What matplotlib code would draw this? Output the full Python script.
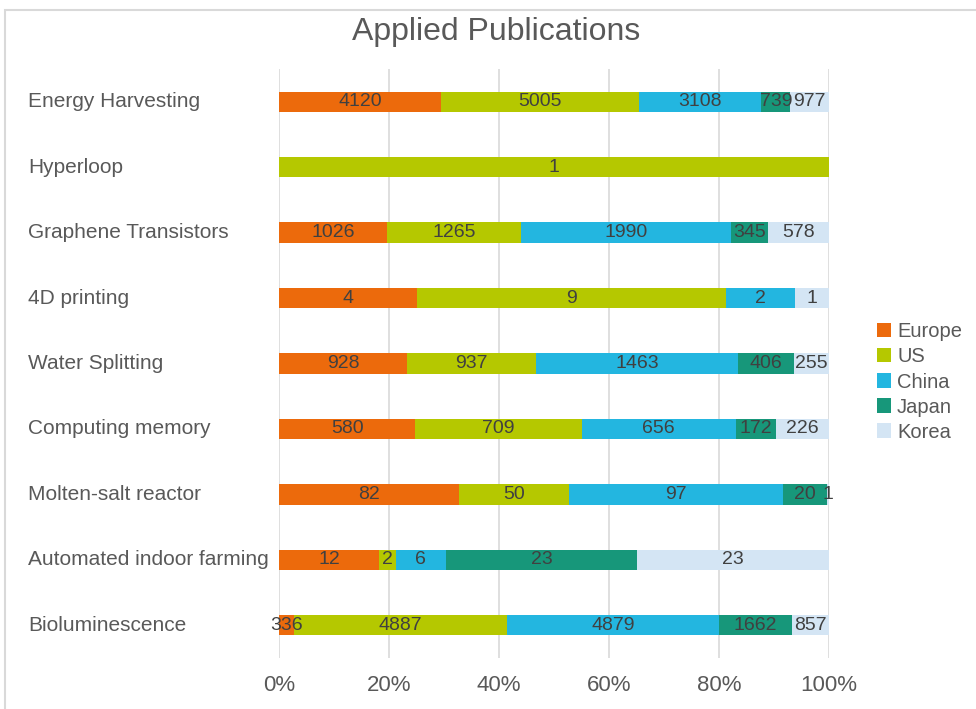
import numpy as np
import matplotlib.pyplot as plt
from matplotlib.patches import Rectangle
from matplotlib.ticker import PercentFormatter
from matplotlib.transforms import blended_transform_factory

plt.rcParams['font.family'] = ['Liberation Sans', 'DejaVu Sans']

topics = ['Energy Harvesting', 'Hyperloop', 'Graphene Transistors', '4D printing',
          'Water Splitting', 'Computing memory', 'Molten-salt reactor',
          'Automated indoor farming', 'Bioluminescence']
regions = ['Europe', 'US', 'China', 'Japan', 'Korea']
europe = [4120, 0, 1026, 4, 928, 580, 82, 12, 336]
us = [5005, 1, 1265, 9, 937, 709, 50, 2, 4887]
china = [3108, 0, 1990, 2, 1463, 656, 97, 6, 4879]
japan = [739, 0, 345, 0, 406, 172, 20, 23, 1662]
korea = [977, 0, 578, 1, 255, 226, 1, 23, 857]
colors = ['#EC6A0C', '#B5C800', '#23B6E0', '#17977A', '#D4E5F4']

counts = np.array([europe, us, china, japan, korea], dtype=float)
shares = counts / counts.sum(axis=0) * 100

fig = plt.figure(figsize=(9.76, 7.09), dpi=100)
fig.patches.append(Rectangle((5 / 976, -0.01), 1.0, (709 - 9.5) / 709 + 0.01,
                             transform=fig.transFigure, fill=False,
                             edgecolor='#d9d9d9', linewidth=1.5))
ax = fig.add_axes([279 / 976, 1 - 658 / 709, 550 / 976, 589 / 709])

ypos = np.arange(len(topics))
left = np.zeros(len(topics))
for name, col, vals, pct in zip(regions, colors, counts, shares):
    bars = ax.barh(ypos, pct, left=left, height=0.31, color=col, label=name, zorder=2)
    labels = [f'{int(v)}' if v > 0 else '' for v in vals]
    ax.bar_label(bars, labels=labels, label_type='center', fontsize=14,
                 color='#404040', clip_on=False)
    left += pct

ax.set_xlim(0, 100)
ax.set_ylim(len(topics) - 0.5, -0.5)
ax.set_xticks(np.arange(0, 101, 20))
ax.xaxis.set_major_formatter(PercentFormatter(decimals=0))
ax.grid(axis='x', color='#d9d9d9', linewidth=1.2, zorder=0)
ax.set_yticks([])
ax.tick_params(axis='x', length=0, pad=12, labelsize=16, labelcolor='#595959')
for s in ax.spines.values():
    s.set_visible(False)

# category names, left aligned at a fixed figure position
trans = blended_transform_factory(fig.transFigure, ax.transData)
for y, name in zip(ypos, topics):
    ax.text(28 / 976, y, name, transform=trans, ha='left', va='center',
            fontsize=15, color='#595959')

fig.text(0.508, 1 - 32 / 709, 'Applied Publications', ha='center', va='center',
         fontsize=23, color='#595959')

fig.legend(loc='center left', bbox_to_anchor=(877 / 976, 1 - 382 / 709),
           frameon=False, fontsize=14.5, handlelength=0.7, handleheight=0.7,
           handletextpad=0.3, labelspacing=0.3, borderpad=0, borderaxespad=0,
           labelcolor='#595959')

fig.savefig('out.png', dpi=100)
